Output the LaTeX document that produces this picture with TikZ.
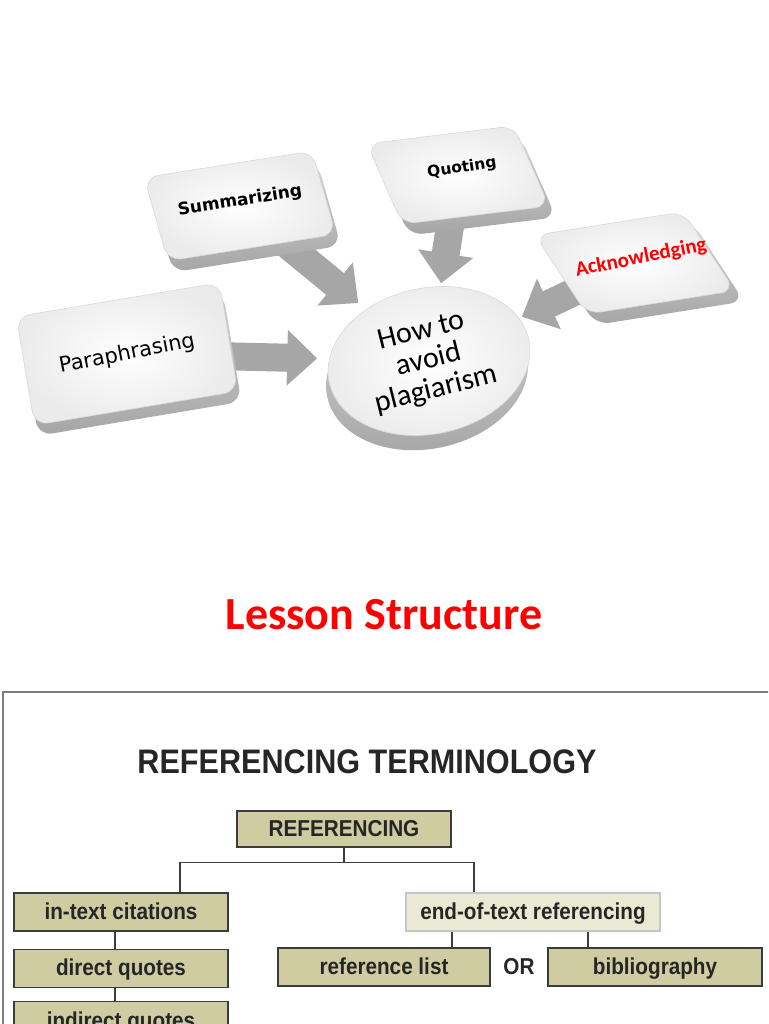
\documentclass[tikz,border=0pt]{standalone}
\usepackage{fontspec}
\usepackage{xcolor}
\usetikzlibrary{shapes.geometric, arrows.meta, positioning, backgrounds, calc}
\newfontfamily\calfont{Carlito}
\newfontfamily\verfont{DejaVu Sans}
\newfontfamily\narrowfont[FakeStretch=0.9]{Liberation Sans}
\definecolor{arrowgray}{RGB}{166, 166, 166}
\definecolor{khaki}{RGB}{206, 204, 160}
\definecolor{palekhaki}{RGB}{234, 234, 212}
\definecolor{linegray}{RGB}{60, 60, 60}
\definecolor{framegray}{RGB}{125, 125, 125}
\definecolor{lessonred}{RGB}{255, 0, 0}

\begin{document}
\begin{tikzpicture}[
    x=1pt, y=-1pt,
    face/.style={rounded corners=14pt, draw=gray!30, line width=0.6pt,
                 inner color=white, outer color=gray!16, inner sep=0pt},
    rim/.style={rounded corners=14pt, top color=gray!35, bottom color=gray!70, inner sep=0pt},
    flow/.style={line width=28pt, draw=arrowgray, -{Triangle[length=30pt, width=54pt]}},
    padtext/.style={font=\verfont\bfseries\fontsize{17}{20}\selectfont},
    tbox/.style={rectangle, draw=linegray, line width=1.3pt, fill=khaki,
                 minimum width=214pt, minimum height=38pt, inner sep=0pt,
                 text height=19pt, text depth=4pt,
                 font=\narrowfont\bfseries\fontsize{23}{25}\selectfont, text=black!85},
    link/.style={draw=linegray, line width=1.5pt},
    frame/.style={draw=framegray, line width=2pt}
]
\path[use as bounding box, clip] (0,0) rectangle (768,1024);

% pads round the hub
\begin{scope}[shift={(127,354)}, rotate=9.5]
  \node[rim, transform shape, minimum width=206pt, minimum height=110pt] at (2,11) {};
  \node[face, transform shape, minimum width=206pt, minimum height=110pt] (para) {};
\end{scope}
\begin{scope}[shift={(240,206)}, rotate=9, xslant=-0.12]
  \node[rim, transform shape, minimum width=170pt, minimum height=86pt] at (2,12) {};
  \node[face, transform shape, minimum width=170pt, minimum height=86pt] (summ) {};
\end{scope}
\begin{scope}[shift={(458,175)}, rotate=7, xslant=-0.3]
  \node[rim, transform shape, minimum width=148pt, minimum height=84pt] at (2,12) {};
  \node[face, transform shape, minimum width=148pt, minimum height=84pt] (quot) {};
\end{scope}
\begin{scope}[shift={(635,263)}, rotate=9, xslant=-0.45]
  \node[rim, transform shape, minimum width=150pt, minimum height=86pt] at (2,12) {};
  \node[face, transform shape, minimum width=150pt, minimum height=86pt] (ackn) {};
\end{scope}
\begin{scope}[shift={(429,361)}, rotate=12]
  \node[rim, ellipse, transform shape, minimum width=204pt, minimum height=146pt] at (-5,14) {};
  \node[face, ellipse, transform shape, minimum width=204pt, minimum height=146pt] (hub) {};
\end{scope}

\node[rotate=11, font=\verfont\fontsize{21}{24}\selectfont] at (para) {Paraphrasing};
\node[rotate=9, padtext] at ([yshift=5pt]summ.center) {Summarizing};
\node[rotate=9, padtext, font=\verfont\bfseries\fontsize{15.5}{18}\selectfont] at ([xshift=4pt, yshift=7pt]quot.center) {Quoting};
\node[rotate=11, text=lessonred, font=\calfont\bfseries\fontsize{21}{24}\selectfont] at ([xshift=6pt, yshift=5pt]ackn.center) {Acknowledging};
\node[rotate=14, align=center, font=\calfont\fontsize{30}{30}\selectfont] at (hub) {How to\\avoid\\plagiarism};

\begin{scope}[on background layer]
  \draw[flow, shorten >=12pt] (para.center) -- (hub);
  \draw[flow, shorten >=10pt] (summ.center) -- (hub);
  \draw[flow, shorten >=3pt] (quot.center) -- (hub);
  \draw[flow, shorten >=3pt] (ackn.center) -- (hub);
\end{scope}

\node[font=\calfont\bfseries\fontsize{46}{50}\selectfont, text=lessonred] (lesson) at (384,615) {Lesson Structure};

% referencing chart
\draw[frame] (3,1030) -- (3,692) -- (775,692);
\node[font=\narrowfont\bfseries\fontsize{34}{38}\selectfont, text=black!85] (title) at (367,762) {REFERENCING TERMINOLOGY};

\node[tbox, minimum height=36pt] (ref) at (344,829) {REFERENCING};
\node[tbox] (it) at (121,912) {in-text citations};
\node[tbox, minimum width=254pt, fill=palekhaki, draw=gray!45] (eot) at (533,912) {end-of-text referencing};
\node[tbox, below=17pt of it] (dq) {direct quotes};
\node[tbox, below=13pt of dq] (iq) {indirect quotes};
\node[tbox, minimum width=212pt] (rl) at (384,967) {reference list};
\node[tbox] (bib) at (655,967) {bibliography};
\node[font=\narrowfont\bfseries\fontsize{23}{25}\selectfont, text=black!85] (or) at (519,967) {OR};

\draw[link] (ref.south) -- ++(0,15) -| ([xshift=59pt]it.north);
\draw[link] (ref.south) -- ++(0,15) -| ([xshift=-59pt]eot.north);
\draw[link] ([xshift=-6pt]it.south) -- ([xshift=-6pt]dq.north);
\draw[link] ([xshift=-6pt]dq.south) -- ([xshift=-6pt]iq.north);
\draw[link] ([xshift=-81pt]eot.south) -- ([xshift=68pt]rl.north);
\draw[link] ([xshift=55pt]eot.south) -- ([xshift=-67pt]bib.north);

\end{tikzpicture}
\end{document}
